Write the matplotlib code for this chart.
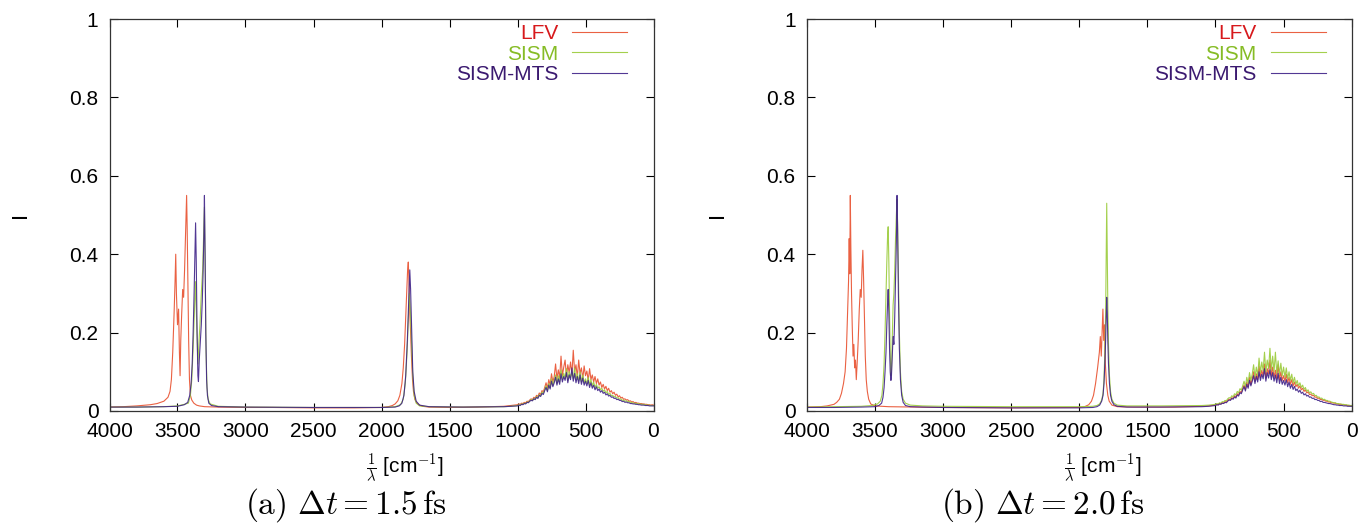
import numpy as np
import matplotlib
matplotlib.use("Agg")
import matplotlib.pyplot as plt

plt.rcParams["font.family"] = ["Liberation Sans", "DejaVu Sans"]
plt.rcParams["mathtext.fontset"] = "cm"

series_names = ["LFV", "SISM", "SISM-MTS"]
line_colors = ["#e8502e", "#9acb3a", "#3f2288"]
text_colors = ["#d7191c", "#86bc25", "#3b1a70"]
captions = [r"$\mathrm{(a)}\ \Delta t = 1.5\,\mathrm{fs}$",
            r"$\mathrm{(b)}\ \Delta t = 2.0\,\mathrm{fs}$"]

# broad low-frequency band, read every 10 cm^-1 from 1000 down to 0
band_wn = np.arange(1000, -1, -10)

# ---- panel (a): dt = 1.5 fs ----
lfv_a_wn = [4000, 3900, 3800, 3700, 3650, 3600, 3570, 3555, 3545, 3535, 3525, 3518, 3513, 3508,
            3500, 3492, 3486, 3481, 3476, 3470, 3462, 3455, 3448, 3442, 3437, 3433, 3429, 3424,
            3418, 3412, 3405, 3395, 3380, 3360, 3340, 3300, 3200, 3000, 2800, 2500, 2200, 2000,
            1950, 1920, 1900, 1880, 1865, 1850, 1840, 1830, 1822, 1815, 1808, 1803, 1798, 1792,
            1786, 1780, 1772, 1765, 1755, 1740, 1720, 1700, 1650, 1500, 1300, 1100, 1050]
lfv_a_i = [0.010, 0.011, 0.013, 0.016, 0.019, 0.025, 0.035, 0.05, 0.08, 0.15, 0.25, 0.33, 0.40, 0.30,
           0.22, 0.26, 0.15, 0.09, 0.18, 0.24, 0.31, 0.29, 0.36, 0.44, 0.50, 0.55, 0.47, 0.33,
           0.18, 0.08, 0.04, 0.028, 0.02, 0.015, 0.013, 0.011, 0.010, 0.009, 0.009, 0.008, 0.008, 0.009,
           0.011, 0.014, 0.018, 0.026, 0.04, 0.07, 0.11, 0.17, 0.24, 0.30, 0.36, 0.38, 0.33, 0.25,
           0.20, 0.14, 0.08, 0.05, 0.03, 0.02, 0.015, 0.012, 0.010, 0.009, 0.010, 0.012, 0.014]
lfv_a_band = [0.016, 0.018, 0.017, 0.020, 0.019, 0.022, 0.021, 0.025, 0.024, 0.028,
              0.031, 0.029, 0.035, 0.033, 0.040, 0.037, 0.046, 0.042, 0.052, 0.049,
              0.060, 0.072, 0.058, 0.080, 0.066, 0.095, 0.074, 0.088, 0.120, 0.082,
              0.105, 0.085, 0.140, 0.090, 0.112, 0.130, 0.088, 0.118, 0.098, 0.125,
              0.092, 0.155, 0.100, 0.118, 0.086, 0.130, 0.095, 0.110, 0.082, 0.115,
              0.090, 0.102, 0.078, 0.108, 0.080, 0.092, 0.074, 0.088, 0.070, 0.082,
              0.066, 0.074, 0.060, 0.068, 0.056, 0.063, 0.052, 0.058, 0.048, 0.052,
              0.044, 0.048, 0.040, 0.043, 0.036, 0.039, 0.033, 0.035, 0.030, 0.031,
              0.028, 0.029, 0.025, 0.026, 0.023, 0.024, 0.021, 0.022, 0.020, 0.020,
              0.019, 0.019, 0.018, 0.018, 0.017, 0.017, 0.016, 0.016, 0.015, 0.016,
              0.015]

sism_a_wn = [4000, 3800, 3600, 3500, 3450, 3420, 3405, 3395, 3385, 3375, 3368, 3360, 3350, 3343,
             3335, 3325, 3315, 3308, 3302, 3296, 3290, 3283, 3275, 3260, 3200, 3000, 2500, 2000,
             1900, 1860, 1840, 1825, 1812, 1802, 1795, 1788, 1780, 1770, 1760, 1745, 1720, 1650,
             1400, 1100, 1050]
sism_a_i = [0.010, 0.010, 0.011, 0.013, 0.017, 0.02, 0.04, 0.08, 0.16, 0.26, 0.33, 0.24, 0.12, 0.17,
            0.22, 0.30, 0.36, 0.45, 0.52, 0.35, 0.15, 0.06, 0.03, 0.018, 0.012, 0.010, 0.009, 0.009,
            0.011, 0.016, 0.03, 0.07, 0.15, 0.24, 0.30, 0.26, 0.18, 0.09, 0.04, 0.02, 0.013, 0.011,
            0.010, 0.011, 0.012]
sism_a_band = [0.014, 0.016, 0.015, 0.018, 0.017, 0.020, 0.019, 0.023, 0.022, 0.026,
               0.029, 0.027, 0.032, 0.030, 0.037, 0.034, 0.042, 0.039, 0.048, 0.045,
               0.055, 0.064, 0.052, 0.070, 0.060, 0.082, 0.066, 0.078, 0.092, 0.070,
               0.090, 0.074, 0.105, 0.080, 0.096, 0.084, 0.108, 0.078, 0.100, 0.086,
               0.098, 0.082, 0.110, 0.080, 0.095, 0.076, 0.100, 0.074, 0.092, 0.072,
               0.082, 0.070, 0.086, 0.066, 0.080, 0.064, 0.074, 0.060, 0.068, 0.058,
               0.062, 0.054, 0.058, 0.050, 0.054, 0.046, 0.050, 0.042, 0.045, 0.039,
               0.040, 0.036, 0.037, 0.033, 0.034, 0.030, 0.031, 0.027, 0.028, 0.025,
               0.026, 0.024, 0.024, 0.022, 0.022, 0.020, 0.020, 0.019, 0.019, 0.018,
               0.018, 0.017, 0.017, 0.016, 0.016, 0.015, 0.015, 0.015, 0.014, 0.014,
               0.014]

mts_a_wn = [4000, 3800, 3600, 3500, 3450, 3425, 3410, 3400, 3392, 3385, 3378, 3372, 3367, 3362,
            3356, 3350, 3346, 3340, 3333, 3325, 3318, 3312, 3306, 3302, 3297, 3292, 3286, 3280,
            3270, 3250, 3200, 3000, 2500, 2000, 1900, 1870, 1850, 1835, 1822, 1810, 1800, 1792,
            1786, 1778, 1770, 1760, 1745, 1720, 1650, 1400, 1100, 1050]
mts_a_i = [0.010, 0.010, 0.011, 0.012, 0.016, 0.022, 0.04, 0.07, 0.12, 0.20, 0.30, 0.40, 0.48, 0.38,
           0.20, 0.09, 0.075, 0.13, 0.17, 0.22, 0.28, 0.35, 0.45, 0.55, 0.40, 0.20, 0.08, 0.04,
           0.02, 0.014, 0.011, 0.010, 0.009, 0.009, 0.010, 0.013, 0.02, 0.04, 0.09, 0.18, 0.28, 0.36,
           0.31, 0.20, 0.10, 0.05, 0.025, 0.015, 0.011, 0.010, 0.011, 0.012]
mts_a_band = [0.013, 0.015, 0.014, 0.017, 0.016, 0.019, 0.018, 0.022, 0.021, 0.025,
              0.027, 0.026, 0.031, 0.029, 0.035, 0.032, 0.040, 0.037, 0.045, 0.042,
              0.052, 0.060, 0.049, 0.066, 0.056, 0.076, 0.062, 0.072, 0.086, 0.066,
              0.082, 0.068, 0.095, 0.074, 0.088, 0.078, 0.098, 0.072, 0.092, 0.080,
              0.110, 0.076, 0.096, 0.072, 0.088, 0.070, 0.092, 0.068, 0.084, 0.066,
              0.076, 0.064, 0.078, 0.060, 0.072, 0.058, 0.066, 0.054, 0.062, 0.052,
              0.056, 0.048, 0.052, 0.045, 0.048, 0.041, 0.044, 0.038, 0.040, 0.035,
              0.036, 0.032, 0.033, 0.029, 0.030, 0.027, 0.027, 0.024, 0.025, 0.022,
              0.023, 0.021, 0.021, 0.019, 0.019, 0.018, 0.018, 0.017, 0.017, 0.016,
              0.016, 0.015, 0.015, 0.015, 0.014, 0.014, 0.014, 0.013, 0.013, 0.013,
              0.013]

# ---- panel (b): dt = 2.0 fs ----
lfv_b_wn = [4000, 3900, 3850, 3800, 3780, 3760, 3745, 3730, 3718, 3708, 3700, 3693, 3688, 3684,
            3680, 3676, 3671, 3666, 3660, 3654, 3648, 3642, 3636, 3630, 3622, 3614, 3607, 3600,
            3594, 3588, 3582, 3576, 3570, 3563, 3555, 3545, 3530, 3500, 3400, 3200, 3000, 2500,
            2000, 1960, 1930, 1910, 1895, 1880, 1865, 1852, 1845, 1838, 1832, 1826, 1820, 1814,
            1808, 1800, 1790, 1780, 1760, 1720, 1600, 1300, 1100, 1050]
lfv_b_i = [0.010, 0.011, 0.013, 0.017, 0.022, 0.03, 0.045, 0.07, 0.10, 0.16, 0.25, 0.33, 0.44, 0.35,
           0.55, 0.42, 0.30, 0.22, 0.14, 0.17, 0.11, 0.13, 0.08, 0.12, 0.18, 0.26, 0.31, 0.29,
           0.36, 0.41, 0.33, 0.23, 0.14, 0.08, 0.05, 0.03, 0.018, 0.013, 0.011, 0.010, 0.009, 0.008,
           0.009, 0.011, 0.016, 0.025, 0.04, 0.07, 0.11, 0.15, 0.19, 0.14, 0.20, 0.26, 0.18, 0.22,
           0.12, 0.07, 0.04, 0.025, 0.015, 0.011, 0.010, 0.010, 0.012, 0.013]
lfv_b_band = [0.015, 0.017, 0.016, 0.019, 0.018, 0.021, 0.020, 0.024, 0.023, 0.027,
              0.030, 0.029, 0.034, 0.032, 0.039, 0.036, 0.044, 0.041, 0.050, 0.047,
              0.058, 0.066, 0.055, 0.074, 0.062, 0.086, 0.068, 0.082, 0.100, 0.076,
              0.095, 0.080, 0.115, 0.086, 0.104, 0.090, 0.120, 0.084, 0.108, 0.094,
              0.130, 0.090, 0.112, 0.086, 0.104, 0.082, 0.118, 0.080, 0.100, 0.078,
              0.090, 0.076, 0.094, 0.072, 0.086, 0.068, 0.080, 0.064, 0.074, 0.062,
              0.068, 0.058, 0.064, 0.054, 0.058, 0.050, 0.054, 0.046, 0.049, 0.042,
              0.043, 0.039, 0.040, 0.035, 0.036, 0.032, 0.033, 0.029, 0.030, 0.027,
              0.028, 0.025, 0.025, 0.023, 0.023, 0.021, 0.021, 0.020, 0.020, 0.018,
              0.018, 0.017, 0.017, 0.016, 0.016, 0.015, 0.015, 0.014, 0.014, 0.013,
              0.013]

sism_b_wn = [4000, 3800, 3600, 3520, 3480, 3460, 3448, 3440, 3432, 3425, 3418, 3412, 3407, 3402,
             3397, 3392, 3387, 3382, 3378, 3372, 3366, 3360, 3354, 3348, 3342, 3337, 3333, 3327,
             3320, 3312, 3303, 3292, 3275, 3240, 3150, 3000, 2500, 2000, 1900, 1870, 1850, 1835,
             1825, 1818, 1812, 1806, 1802, 1798, 1794, 1790, 1785, 1778, 1770, 1760, 1745, 1720,
             1650, 1400, 1100, 1050]
sism_b_i = [0.010, 0.011, 0.012, 0.014, 0.018, 0.025, 0.04, 0.07, 0.12, 0.20, 0.30, 0.38, 0.44, 0.47,
            0.38, 0.25, 0.15, 0.09, 0.10, 0.18, 0.27, 0.30, 0.36, 0.44, 0.50, 0.54, 0.48, 0.35,
            0.20, 0.10, 0.05, 0.03, 0.02, 0.015, 0.013, 0.012, 0.011, 0.011, 0.012, 0.014, 0.018, 0.028,
            0.045, 0.08, 0.15, 0.25, 0.38, 0.53, 0.40, 0.27, 0.17, 0.09, 0.05, 0.03, 0.02, 0.015,
            0.013, 0.013, 0.014, 0.015]
sism_b_band = [0.017, 0.019, 0.018, 0.021, 0.020, 0.024, 0.023, 0.027, 0.026, 0.031,
               0.034, 0.033, 0.039, 0.036, 0.044, 0.041, 0.050, 0.046, 0.057, 0.053,
               0.065, 0.076, 0.062, 0.086, 0.070, 0.098, 0.078, 0.094, 0.118, 0.086,
               0.112, 0.090, 0.135, 0.098, 0.125, 0.102, 0.150, 0.100, 0.130, 0.108,
               0.160, 0.104, 0.140, 0.100, 0.150, 0.096, 0.128, 0.094, 0.122, 0.090,
               0.112, 0.086, 0.110, 0.082, 0.100, 0.078, 0.094, 0.072, 0.086, 0.068,
               0.078, 0.064, 0.072, 0.060, 0.066, 0.055, 0.060, 0.050, 0.054, 0.046,
               0.049, 0.043, 0.045, 0.039, 0.040, 0.035, 0.036, 0.032, 0.033, 0.029,
               0.030, 0.027, 0.027, 0.025, 0.025, 0.023, 0.022, 0.021, 0.021, 0.019,
               0.019, 0.018, 0.018, 0.017, 0.017, 0.016, 0.016, 0.015, 0.015, 0.014,
               0.014]

mts_b_wn = [4000, 3800, 3600, 3500, 3470, 3450, 3440, 3432, 3425, 3418, 3412, 3406, 3402, 3397,
            3392, 3387, 3382, 3378, 3372, 3366, 3360, 3354, 3348, 3342, 3337, 3333, 3327, 3320,
            3312, 3303, 3292, 3275, 3240, 3150, 3000, 2500, 2000, 1900, 1870, 1850, 1835, 1825,
            1818, 1812, 1806, 1802, 1798, 1794, 1790, 1785, 1778, 1770, 1760, 1745, 1720, 1650,
            1400, 1100, 1050]
mts_b_i = [0.009, 0.009, 0.010, 0.011, 0.014, 0.02, 0.035, 0.06, 0.10, 0.15, 0.22, 0.28, 0.31, 0.25,
           0.16, 0.10, 0.078, 0.09, 0.14, 0.19, 0.17, 0.24, 0.33, 0.43, 0.55, 0.47, 0.30, 0.16,
           0.08, 0.04, 0.022, 0.014, 0.011, 0.010, 0.009, 0.008, 0.008, 0.009, 0.011, 0.015, 0.025, 0.04,
           0.07, 0.12, 0.18, 0.24, 0.29, 0.25, 0.18, 0.12, 0.07, 0.04, 0.025, 0.016, 0.012, 0.010,
           0.010, 0.011, 0.012]
mts_b_band = [0.014, 0.016, 0.015, 0.018, 0.017, 0.020, 0.019, 0.022, 0.021, 0.025,
              0.028, 0.027, 0.032, 0.030, 0.036, 0.033, 0.041, 0.038, 0.047, 0.044,
              0.054, 0.062, 0.051, 0.068, 0.058, 0.078, 0.064, 0.076, 0.090, 0.070,
              0.088, 0.074, 0.100, 0.078, 0.094, 0.082, 0.108, 0.076, 0.098, 0.084,
              0.105, 0.080, 0.098, 0.076, 0.092, 0.072, 0.096, 0.070, 0.086, 0.068,
              0.078, 0.066, 0.080, 0.062, 0.074, 0.058, 0.068, 0.055, 0.063, 0.052,
              0.056, 0.048, 0.053, 0.045, 0.048, 0.041, 0.044, 0.038, 0.040, 0.035,
              0.036, 0.032, 0.033, 0.029, 0.030, 0.027, 0.027, 0.024, 0.025, 0.022,
              0.022, 0.021, 0.020, 0.019, 0.019, 0.018, 0.017, 0.016, 0.016, 0.015,
              0.015, 0.014, 0.014, 0.014, 0.013, 0.013, 0.013, 0.012, 0.012, 0.012,
              0.012]

panels = [
    [(lfv_a_wn, lfv_a_i, lfv_a_band), (sism_a_wn, sism_a_i, sism_a_band), (mts_a_wn, mts_a_i, mts_a_band)],
    [(lfv_b_wn, lfv_b_i, lfv_b_band), (sism_b_wn, sism_b_i, sism_b_band), (mts_b_wn, mts_b_i, mts_b_band)],
]

W, H = 1361, 527
fig = plt.figure(figsize=(W / 100, H / 100), dpi=100)
axes = [fig.add_axes([109.5 / W, 116 / H, 544 / W, 392 / H]),
        fig.add_axes([806.7 / W, 116 / H, 545 / W, 392 / H])]
caption_x = [346 / W, 1043 / W]

for ax, panel, caption, cx in zip(axes, panels, captions, caption_x):
    for (wn, vals, band), name, color in zip(panel, series_names, line_colors):
        x = np.concatenate([wn, band_wn])
        y = np.concatenate([vals, band])
        ax.plot(x, y, color=color, lw=0.8, alpha=0.9, label=name)

    ax.set_xlim(4000, 0)
    ax.set_ylim(0, 1)
    ax.set_xticks(range(4000, -1, -500))
    ax.set_yticks([0, 0.2, 0.4, 0.6, 0.8, 1.0])
    ax.set_yticklabels(["0", "0.2", "0.4", "0.6", "0.8", "1"])
    ax.tick_params(direction="in", length=6, width=0.8, top=True, right=True,
                   labelsize=15, pad=8)
    for spine in ax.spines.values():
        spine.set_linewidth(0.9)
        spine.set_color("#333333")

    ax.set_xlabel(r"$\frac{1}{\lambda}$ [cm$^{-1}$]", fontsize=15)
    ax.xaxis.set_label_coords(0.543, -0.105)
    ax.set_ylabel("I", fontsize=16)
    ax.yaxis.set_label_coords(-0.145, 0.5)

    ax.legend(loc="upper right", bbox_to_anchor=(0.952, 0.987), frameon=False,
              markerfirst=False, labelcolor=text_colors, fontsize=15,
              handlelength=2.64, handletextpad=0.67, labelspacing=0.07,
              borderaxespad=0, borderpad=0)

    fig.text(cx, 1 - 505 / H, caption, fontsize=24, ha="center", va="center")

fig.savefig("out.png", dpi=100)
